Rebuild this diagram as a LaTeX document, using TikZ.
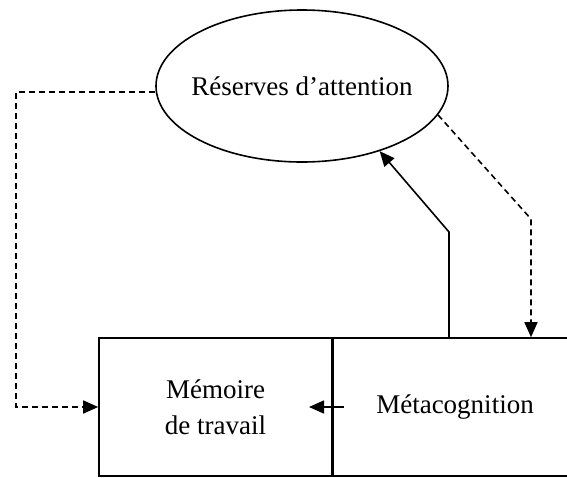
\documentclass[tikz,border=0pt]{standalone}
\usepackage{fontspec}
\setmainfont{Liberation Serif}
\usetikzlibrary{arrows.meta,shapes.geometric}
\begin{document}
\begin{tikzpicture}[x=1pt,y=-1pt,
  labeltext/.style={font=\fontsize{27}{36}\selectfont, align=center},
  frame/.style={draw, line width=1.6pt, inner sep=0pt},
  tiphead/.style={-{Triangle[length=15pt,width=13pt]}},
  link/.style={line width=1.6pt, tiphead},
  dashlink/.style={link, dash pattern=on 6pt off 4pt}]
\useasboundingbox (0,0) rectangle (567,477);
\clip (0,0) rectangle (567,477);

% attention reserves (text given zero width so the ellipse keeps its size)
\node[frame, ellipse, minimum width=292pt, minimum height=152pt, labeltext]
  (res) at (302,86) {\makebox[0pt]{Réserves d’attention}};

% working memory and metacognition blocks
\node[frame, minimum width=233pt, minimum height=138pt, labeltext]
  (mem) at (215.5,407) {Mémoire\\de travail};
\node[frame, minimum width=246pt, minimum height=138pt, labeltext]
  (meta) at (455,407) {Métacognition};
\draw[line width=2.2pt] (mem.north east) -- (mem.south east);

% bend points
\coordinate (leftTurn) at (16,407);
\coordinate (dropA) at (531,219);
\coordinate (riseA) at (449,232);
\coordinate (fromMeta) at (344,407);
\coordinate (intoMem) at (309,407);

% connectors
\draw[dashlink] ([yshift=-6pt]res.west) -| (leftTurn) -- (mem.west);
\draw[dashlink] (res.-12) -- (dropA) -- (dropA |- meta.north);
\draw[link] (riseA |- meta.north) -- (riseA) -- (res.-40);
\draw[link] (fromMeta) -- (intoMem);
\end{tikzpicture}
\end{document}
